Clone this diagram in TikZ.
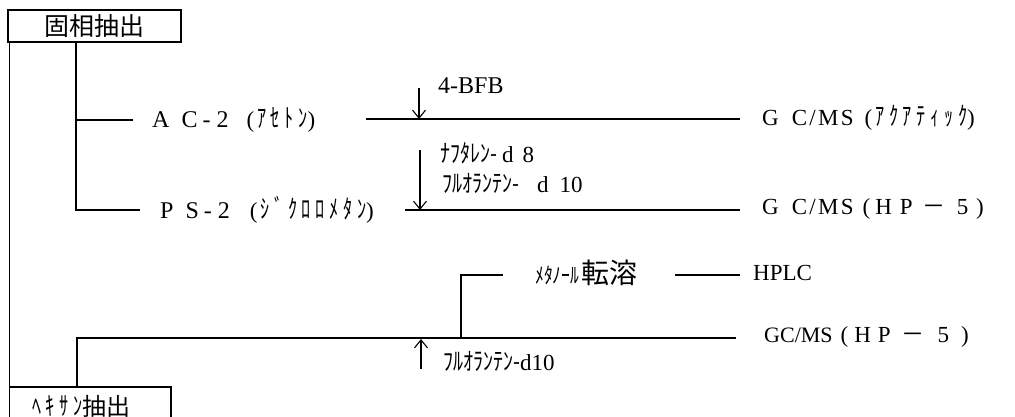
\documentclass[tikz,border=0pt]{standalone}
\usepackage{fontspec}
\setmainfont{Liberation Serif}
\newfontfamily\jp{Noto Sans CJK JP}
\newfontfamily\jpw[LetterSpace=18,FakeStretch=0.7]{Noto Sans CJK JP}
\newfontfamily\jpn[FakeStretch=0.8]{Noto Sans CJK JP}
\newfontfamily\lsp[LetterSpace=10]{Liberation Serif}
\usetikzlibrary{arrows.meta}
\newcommand{\kw}{\jpw\fontsize{26}{28}\selectfont}
\newcommand{\ks}{\jpn\fontsize{25}{27}\selectfont}
\newcommand{\lt}{\rmfamily\fontsize{23}{25}\selectfont}
\newcommand{\kp}[1]{{\lt(}\hspace{3pt}{\kw #1}{\lt)}}
\begin{document}
\begin{tikzpicture}[x=1pt,y=-1pt,
  ln/.style={line width=1.1pt},
  lbl/.style={anchor=west,inner sep=0pt,font=\lt},
  kana/.style={anchor=west,inner sep=0pt,font=\ks},
  arr/.style={ln,-{Straight Barb[length=8pt,width=13pt,line width=1.1pt]}}]
\useasboundingbox (0,0) rectangle (1015,417);
% boxes
\node[draw,ln,minimum width=173pt,minimum height=32pt,inner sep=0pt,font=\jp\fontsize{25}{27}\selectfont] (solid) at (94.5,26) {固相抽出};
\draw[ln] (9.5,430) -- (9.5,387) -- (171,387) -- (171,430);
\node[inner sep=0pt,anchor=west] (hex) at (32,406) {{\kw ﾍｷｻﾝ}{\jp\fontsize{24}{26}\selectfont 抽出}};
\coordinate (hextl) at (9.5,387);
\coordinate (hexin) at (77,387);
% row labels
\node[lbl,font=\fontsize{24}{26}\selectfont] (ac) at (152,120) {A\hspace{12pt}C\hspace{5pt}-\hspace{6pt}2\hspace{18pt}\kp{ｱｾﾄﾝ}};
\node[lbl,font=\fontsize{24}{26}\selectfont] (ps) at (160,210) {P\hspace{12pt}S\hspace{5pt}-\hspace{6pt}2\hspace{20pt}\kp{ｼﾞｸﾛﾛﾒﾀﾝ}};
\node[lbl] (gc1) at (762,118) {G\hspace{13pt}{\lsp C/MS}\hspace{11pt}\kp{ｱｸｱﾃｨｯｸ}};
\node[lbl] (gc2) at (762,209) {G\hspace{13pt}{\lsp C/MS}\hspace{9pt}(\hspace{5pt}H\hspace{8pt}P\hspace{10pt}{\jp －}\hspace{11pt}5\hspace{8pt})};
\node[lbl] (gc3) at (764,337) {{\fontsize{22}{24}\selectfont GC/MS}\hspace{8pt}(\hspace{6pt}H\hspace{7pt}P\hspace{11pt}{\jp －}\hspace{13pt}5\hspace{12pt})};
\node[lbl] (hplc) at (753,273) {HPLC};
\node[anchor=west,inner sep=0pt] (meoh) at (535,273) {{\jpn\fontsize{22}{24}\selectfont ﾒﾀﾉｰﾙ}\hspace{2pt}{\jp\fontsize{28}{30}\selectfont 転溶}};
\node[lbl,font=\fontsize{24}{26}\selectfont] (bfb) at (438,86) {4-BFB};
\node[kana] (naph) at (440,153) {ﾅﾌﾀﾚﾝ-\hspace{5pt}{\lt d\hspace{9pt}8}};
\node[kana] (fluo) at (442,183) {ﾌﾙｵﾗﾝﾃﾝ-\hspace{18pt}{\lt d\hspace{11pt}10}};
\node[kana] (fluo2) at (443,361) {ﾌﾙｵﾗﾝﾃﾝ-{\lt d10}};
% coordinates
\coordinate (lt) at (9.5,42);
\coordinate (in) at (76,42);
\coordinate (r1) at (76,120);
\coordinate (r2) at (76,210);
\coordinate (r1e) at (133,120);
\coordinate (r2e) at (140,210);
\coordinate (r1a) at (366,119);
\coordinate (r1b) at (740,119);
\coordinate (r2a) at (405,210);
\coordinate (r2b) at (740,210);
\coordinate (r3b) at (736,338);
\coordinate (r3m) at (461,338);
\coordinate (r3u) at (461,275);
\coordinate (r3v) at (503,275);
\coordinate (hp1) at (675,275);
\coordinate (hp2) at (740,275);
\coordinate (a1) at (419,88);
\coordinate (a1e) at (419,119);
\coordinate (a2) at (420,150);
\coordinate (a2e) at (420,210);
\coordinate (a3) at (421,369);
\coordinate (a3e) at (421,339);
% connectors
\draw[ln] (lt) -- (hextl);
\draw[ln] (in) -- (r2) -- (r2e);
\draw[ln] (r1) -- (r1e);
\draw[ln] (r1a) -- (r1b);
\draw[ln] (r2a) -- (r2b);
\draw[ln] (hexin) |- (r3b);
\draw[ln] (r3m) -- (r3u) -- (r3v);
\draw[ln] (hp1) -- (hp2);
\draw[arr] (a1) -- (a1e);
\draw[arr] (a2) -- (a2e);
\draw[arr] (a3) -- (a3e);
\end{tikzpicture}
\end{document}
